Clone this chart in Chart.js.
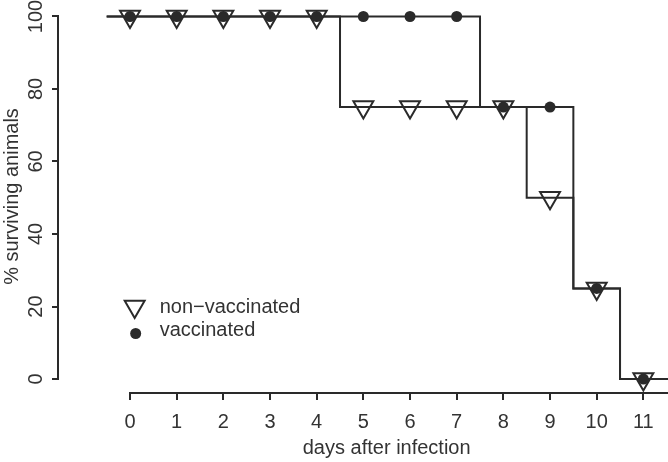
<!DOCTYPE html>
<html>
<head>
<meta charset="utf-8">
<title>Supervivencia tras la infección</title>
<script src="https://cdn.jsdelivr.net/npm/chart.js@4.4.1/dist/chart.umd.min.js"></script>
<style>
  html, body { margin: 0; padding: 0; background: #fff; }
  #grafica { display: block; }
</style>
</head>
<body>
<canvas id="grafica" width="668" height="462"></canvas>
<script>
// --- DATOS ---
const dias = [0, 1, 2, 3, 4, 5, 6, 7, 8, 9, 10, 11];
const noVacunados = [100, 100, 100, 100, 100, 75, 75, 75, 75, 50, 25, 0];
const vacunados = [100, 100, 100, 100, 100, 100, 100, 100, 75, 75, 25, 0];
const ticksX = [0, 1, 2, 3, 4, 5, 6, 7, 8, 9, 10, 11];
const ticksY = [0, 20, 40, 60, 80, 100];
const inicioCurva = -0.5;   // la curva empieza medio día antes
const finCurva = 12;        // y sigue hasta salir del gráfico
const tituloX = 'days after infection';

// --- ESTILO ---
const COLOR = '#2a2a2a';
const TEXTO = '#333333';
const FUENTE = { family: '"Liberation Sans", Arial, Helvetica, sans-serif', size: 20 };

const puntos = (valores) => dias.map((d, i) => ({ x: d, y: valores[i] }));
const curva = (valores) => [
    { x: inicioCurva, y: valores[0] },
    ...puntos(valores),
    { x: finCurva, y: valores[valores.length - 1] }
];

// Ejes estilo R: la línea sólo cubre el rango de los ticks
const ejesR = {
    id: 'ejesR',
    beforeDatasetsDraw(chart) {
        const { ctx, scales: { x, y } } = chart;
        const yEje = Math.round(x.top);
        const xEje = Math.round(y.right);
        ctx.save();
        ctx.strokeStyle = COLOR;
        ctx.lineWidth = 2;
        ctx.beginPath();
        ctx.moveTo(Math.round(x.getPixelForValue(ticksX[0])) - 1, yEje);
        ctx.lineTo(x.right, yEje);
        ctx.moveTo(xEje, Math.round(y.getPixelForValue(ticksY[0])) + 1);
        ctx.lineTo(xEje, Math.round(y.getPixelForValue(ticksY[ticksY.length - 1])) - 1);
        ctx.stroke();
        // título X centrado en el rango de días (como en R, no en el área recortada)
        ctx.fillStyle = TEXTO;
        ctx.font = `${FUENTE.size}px ${FUENTE.family}`;
        ctx.textAlign = 'center';
        ctx.textBaseline = 'middle';
        ctx.fillText(tituloX, x.getPixelForValue((dias[0] + dias[dias.length - 1]) / 2), x.bottom - 14);
        ctx.restore();
    }
};

// Leyenda dentro del área, anclada en coordenadas de datos
const posLeyenda = { x: 0.1, y: 20 };
const leyenda = {
    id: 'leyenda',
    afterDraw(chart) {
        const { ctx, scales: { x, y } } = chart;
        const px = x.getPixelForValue(posLeyenda.x);
        const py = y.getPixelForValue(posLeyenda.y);
        const [dsPuntos, dsTriangulos] = chart.data.datasets;
        ctx.save();
        ctx.lineWidth = 2;
        ctx.strokeStyle = COLOR;
        ctx.fillStyle = 'rgba(0,0,0,0)';
        Chart.helpers.drawPoint(ctx, { pointStyle: 'triangle', rotation: 180, radius: 11.5, borderWidth: 2 }, px, py);
        ctx.fillStyle = COLOR;
        Chart.helpers.drawPoint(ctx, { pointStyle: 'circle', rotation: 0, radius: 5.5, borderWidth: 0 }, px + 1, py + 27);
        ctx.fillStyle = TEXTO;
        ctx.font = `${FUENTE.size}px ${FUENTE.family}`;
        ctx.textAlign = 'left';
        ctx.textBaseline = 'middle';
        ctx.fillText(dsTriangulos.label, px + 25, py + 0.5);
        ctx.fillText(dsPuntos.label, px + 25, py + 23.5);
        ctx.restore();
    }
};

const grafica = new Chart(document.getElementById('grafica'), {
    type: 'scatter',
    data: {
        datasets: [
            {
                label: 'vaccinated',
                data: puntos(vacunados),
                pointStyle: 'circle',
                pointRadius: 5.5,
                pointHoverRadius: 5.5,
                pointBackgroundColor: COLOR,
                pointBorderWidth: 0,
                showLine: false
            },
            {
                label: 'non\u2212vaccinated',
                data: puntos(noVacunados),
                pointStyle: 'triangle',
                pointRotation: 180,
                pointRadius: 11.5,
                pointHoverRadius: 11.5,
                pointBackgroundColor: 'rgba(0,0,0,0)',
                pointBorderColor: COLOR,
                pointBorderWidth: 2,
                showLine: false
            },
            {
                label: 'curva vacunados',
                data: curva(vacunados),
                showLine: true,
                stepped: 'middle',
                borderColor: COLOR,
                borderWidth: 2,
                pointRadius: 0,
                pointHoverRadius: 0
            },
            {
                label: 'curva no vacunados',
                data: curva(noVacunados),
                showLine: true,
                stepped: 'middle',
                borderColor: COLOR,
                borderWidth: 2,
                pointRadius: 0,
                pointHoverRadius: 0
            }
        ]
    },
    options: {
        responsive: false,
        animation: false,
        events: [],
        layout: { autoPadding: false, padding: 0 },
        plugins: { legend: { display: false }, tooltip: { enabled: false } },
        scales: {
            x: {
                type: 'linear',
                min: -1.543,
                max: 11.528,
                border: { display: false },
                grid: { drawOnChartArea: false, drawTicks: true, tickLength: 7, color: COLOR, lineWidth: 2 },
                ticks: { color: TEXTO, font: FUENTE, padding: 10, autoSkip: false, maxRotation: 0 },
                afterBuildTicks: s => { s.ticks = ticksX.map(v => ({ value: v })); },
                afterFit: s => { s.height = 69; s.paddingLeft = 0; s.paddingRight = 0; },
                title: { display: false }
            },
            y: {
                type: 'linear',
                min: -3.86,
                max: 104.55,
                border: { display: false },
                grid: { drawOnChartArea: false, drawTicks: true, tickLength: 6, color: COLOR, lineWidth: 2 },
                ticks: { color: TEXTO, font: FUENTE, minRotation: 90, maxRotation: 90, crossAlign: 'center', padding: -1, autoSkip: false },
                afterBuildTicks: s => { s.ticks = ticksY.map(v => ({ value: v })); },
                afterFit: s => { s.width = 58; s.paddingTop = 0; s.paddingBottom = 0; },
                title: { display: true, text: '% surviving animals', color: TEXTO, font: FUENTE, padding: { top: 0, bottom: 0 } }
            }
        }
    },
    plugins: [ejesR, leyenda]
});
</script>
</body>
</html>
